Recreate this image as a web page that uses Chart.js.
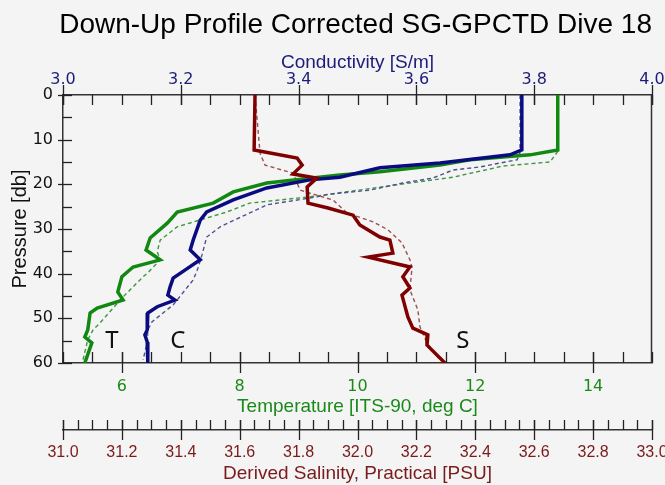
<!DOCTYPE html>
<html>
<head>
<meta charset="utf-8">
<script src="https://cdn.jsdelivr.net/npm/chart.js@4/dist/chart.umd.min.js"></script>
<style>
  html, body { margin: 0; padding: 0; background: #f4f4f4; }
  canvas { display: block; }
</style>
</head>
<body>
<canvas id="grafico" width="665" height="485"></canvas>
<script>
// ticks con etiqueta
const presion_ticks = [0, 10, 20, 30, 40, 50, 60];
const cond_ticks = [3.0, 3.2, 3.4, 3.6, 3.8, 4.0];
const temp_ticks = [6, 8, 10, 12, 14];
const sal_ticks = [31.0, 31.2, 31.4, 31.6, 31.8, 32.0, 32.2, 32.4, 32.6, 32.8, 33.0];

// temperatura, bajada (linea gruesa)
const temp_bajada_p = [0, 12.3, 13.4, 14.5, 15.7, 17.2, 17.9, 19.7, 21.7, 24.2, 26.2, 28.7, 32.0, 34.7, 36.9, 38.5, 40.7, 44.1, 45.9, 47.7, 48.8, 52.6, 54.2, 55.5, 60];
const temp_bajada_v = [13.40, 13.40, 12.93, 11.91, 11.40, 10.38, 9.70, 8.46, 7.89, 7.55, 6.94, 6.77, 6.48, 6.41, 6.65, 6.19, 6.00, 5.93, 6.02, 5.58, 5.46, 5.42, 5.37, 5.49, 5.37];
// temperatura, subida (punteada)
const temp_subida_p = [0, 12.8, 15.0, 15.9, 18.4, 20.1, 22.2, 22.8, 24.2, 26.2, 29.5, 32.5, 35.1, 36.9, 39.8, 40.7, 45.2, 51.0, 52.6, 54.8, 59.3];
const temp_subida_v = [13.39, 13.39, 13.27, 12.47, 11.62, 10.67, 9.53, 9.19, 8.17, 7.78, 6.94, 6.65, 6.60, 6.65, 6.44, 6.36, 6.02, 5.63, 5.51, 5.42, 5.34];

// conductividad
const cond_bajada_p = [0, 12.3, 13.4, 15.2, 16.3, 18.4, 19.0, 20.8, 23.5, 26.2, 28.0, 32.5, 34.7, 36.9, 39.2, 41.0, 42.9, 44.8, 45.9, 47.4, 48.8, 52.6, 53.7, 55.3, 60];
const cond_bajada_v = [3.779, 3.779, 3.759, 3.640, 3.538, 3.470, 3.419, 3.346, 3.289, 3.244, 3.233, 3.221, 3.216, 3.233, 3.207, 3.187, 3.182, 3.178, 3.190, 3.160, 3.144, 3.143, 3.139, 3.143, 3.144];
const cond_subida_p = [0, 12.8, 14.5, 16.1, 16.8, 18.6, 19.7, 21.3, 22.2, 22.8, 24.6, 26.4, 29.5, 31.8, 35.8, 39.2, 41.4, 47.0, 50.8, 52.6, 55.3, 59.3];
const cond_subida_v = [3.776, 3.776, 3.771, 3.708, 3.662, 3.628, 3.577, 3.521, 3.453, 3.431, 3.346, 3.317, 3.267, 3.244, 3.236, 3.228, 3.221, 3.187, 3.151, 3.144, 3.143, 3.136];

// salinidad
const sal_bajada_p = [0, 12.3, 14.1, 15.7, 17.7, 18.6, 20.6, 24.2, 25.3, 26.9, 29.1, 31.8, 32.5, 35.4, 36.3, 38.5, 40.7, 43.2, 44.8, 49.7, 52.2, 53.7, 56.0, 60];
const sal_bajada_v = [31.652, 31.649, 31.795, 31.812, 31.781, 31.862, 31.829, 31.832, 31.900, 31.985, 32.008, 32.076, 32.110, 32.120, 32.036, 32.178, 32.154, 32.178, 32.151, 32.171, 32.188, 32.239, 32.236, 32.297];
const sal_subida_p = [0, 13.0, 15.7, 17.5, 21.3, 22.0, 23.5, 26.4, 28.4, 30.2, 33.1, 36.9, 38.7, 43.6, 48.1, 51.9, 55.5, 59.3];
const sal_subida_v = [31.652, 31.669, 31.686, 31.781, 31.805, 31.839, 31.917, 31.964, 32.053, 32.104, 32.151, 32.178, 32.185, 32.178, 32.205, 32.212, 32.236, 32.280];

const letras = ["T", "C", "S"];
const letras_valor = [5.83, 3.195, 32.358];
const letras_eje = ["xT", "xC", "xS"];
const letras_presion = 55.1;

const color_temp = "#118811";
const color_cond = "#0b0b80";
const color_sal = "#7f0000";

function a_puntos(presiones, valores) {
  return presiones.map((p, i) => ({ x: valores[i], y: p }));
}

function serie(etiqueta, eje, presiones, valores, color, punteada) {
  return {
    label: etiqueta,
    xAxisID: eje,
    yAxisID: "y",
    data: a_puntos(presiones, valores),
    showLine: true,
    borderColor: color,
    borderWidth: punteada ? 1.4 : 3.5,
    borderDash: punteada ? [4, 3] : [],
    pointRadius: 0,
    tension: 0,
  };
}

function lista_menores(min, max, paso) {
  const n = Math.round((max - min) / paso);
  const lista = [];
  for (let i = 0; i <= n; i++) lista.push(min + i * paso);
  return lista;
}

// marcas de los ejes: menores hacia dentro, mayores cruzando la linea
const marcas_ejes = {
  id: "marcas_ejes",
  afterDraw(chart) {
    const ctx = chart.ctx;
    const area = chart.chartArea;
    const s = chart.scales;
    ctx.save();
    ctx.strokeStyle = "#222";
    ctx.lineWidth = 1.3;

    function horizontal(escala, y, paso, mayores, menor_a, menor_b, mayor_a, mayor_b) {
      lista_menores(escala.min, escala.max, paso).forEach((v) => {
        const x = Math.round(escala.getPixelForValue(v)) + 0.5;
        ctx.beginPath();
        ctx.moveTo(x, y + menor_a);
        ctx.lineTo(x, y + menor_b);
        ctx.stroke();
      });
      mayores.forEach((v) => {
        const x = Math.round(escala.getPixelForValue(v)) + 0.5;
        ctx.beginPath();
        ctx.moveTo(x, y + mayor_a);
        ctx.lineTo(x, y + mayor_b);
        ctx.stroke();
      });
    }

    horizontal(s.xC, area.top, 0.05, cond_ticks, 0, 10, -10, 10);
    horizontal(s.xT, area.bottom, 0.5, temp_ticks, -11, 0, -11, 10);
    horizontal(s.xS, s.xS.top, 0.05, sal_ticks, -10, 0, -10, 10);

    const x0 = area.left;
    lista_menores(0, 60, 5).forEach((v) => {
      const y = Math.round(s.y.getPixelForValue(v)) + 0.5;
      const mayor = presion_ticks.includes(v);
      ctx.beginPath();
      ctx.moveTo(x0 + (mayor ? -5 : 0), y);
      ctx.lineTo(x0 + 9, y);
      ctx.stroke();
    });

    // lado derecho del marco
    ctx.lineWidth = 1.5;
    ctx.strokeStyle = "#333";
    ctx.beginPath();
    ctx.moveTo(area.right - 0.5, area.top);
    ctx.lineTo(area.right - 0.5, area.bottom);
    ctx.stroke();

    // letras T C S
    ctx.fillStyle = "#111";
    ctx.font = "24px 'Noto Sans'";
    ctx.textAlign = "center";
    ctx.textBaseline = "middle";
    letras.forEach((letra, i) => {
      const x = s[letras_eje[i]].getPixelForValue(letras_valor[i]);
      const y = s.y.getPixelForValue(letras_presion);
      ctx.fillText(letra, x, y);
    });
    ctx.restore();
  },
};

function eje_x(posicion, min, max, ticks_lista, decimales, color, titulo, alto, opciones) {
  return Object.assign({
    type: "linear",
    axis: "x",
    position: posicion,
    min: min,
    max: max,
    afterBuildTicks: (escala) => {
      escala.ticks = ticks_lista.map((v) => ({ value: v }));
    },
    afterFit: (escala) => {
      escala.height = alto;
      escala.paddingLeft = 0;
      escala.paddingRight = 0;
    },
    grid: { display: false, drawTicks: false },
    border: { display: true, color: "#333", width: 1.5 },
    title: {
      display: true,
      text: titulo,
      color: color,
      font: { family: "'Liberation Sans', Arial", size: 19 },
    },
  }, opciones, {
    ticks: Object.assign({
      color: color,
      autoSkip: false,
      maxRotation: 0,
      minRotation: 0,
      callback: (v) => v.toFixed(decimales),
    }, opciones.ticks),
  });
}

const config = {
  type: "scatter",
  data: {
    datasets: [
      serie("S bajada", "xS", sal_bajada_p, sal_bajada_v, color_sal, false),
      serie("C bajada", "xC", cond_bajada_p, cond_bajada_v, color_cond, false),
      serie("T bajada", "xT", temp_bajada_p, temp_bajada_v, color_temp, false),
      serie("S subida", "xS", sal_subida_p, sal_subida_v, "#9a5050", true),
      serie("C subida", "xC", cond_subida_p, cond_subida_v, "#50508f", true),
      serie("T subida", "xT", temp_subida_p, temp_subida_v, "#409640", true),
    ],
  },
  options: {
    responsive: false,
    animation: false,
    devicePixelRatio: 1,
    layout: { padding: { left: 0, right: 13, top: 0, bottom: 0 } },
    plugins: {
      legend: { display: false },
      tooltip: { enabled: false },
      title: {
        display: true,
        text: "Down-Up Profile Corrected SG-GPCTD Dive 18",
        align: "end",
        color: "#000",
        font: { family: "'Liberation Sans', Arial", size: 28, weight: "normal", lineHeight: 1.2 },
        padding: { top: 8, bottom: 0 },
      },
    },
    scales: {
      y: {
        type: "linear",
        axis: "y",
        position: "left",
        reverse: true,
        min: 0,
        max: 60,
        afterBuildTicks: (escala) => {
          escala.ticks = presion_ticks.map((v) => ({ value: v }));
        },
        afterFit: (escala) => {
          escala.width = 63;
          escala.paddingTop = 0;
          escala.paddingBottom = 0;
        },
        grid: { display: false, drawTicks: false },
        border: { display: true, color: "#333", width: 1.5 },
        ticks: {
          color: "#111",
          padding: 10,
          font: { family: "'DejaVu Sans'", size: 16 },
        },
        title: {
          display: true,
          text: "Pressure [db]",
          color: "#111",
          font: { family: "'Liberation Sans', Arial", size: 20 },
          padding: { top: 8, bottom: 0 },
        },
      },
      xC: eje_x("top", 3, 4, cond_ticks, 1, "#1c1c7a", "Conductivity [S/m]", 53.4, {
        weight: 0,
        ticks: { padding: 6, font: { family: "'DejaVu Sans'", size: 16 } },
        title: {
          display: true, text: "Conductivity [S/m]", color: "#1c1c7a",
          font: { family: "'Liberation Sans', Arial", size: 19 },
          padding: { top: 10, bottom: 0 },
        },
      }),
      xT: eje_x("bottom", 5, 15, temp_ticks, 0, "#1a8a1a", "Temperature [ITS-90, deg C]", 67, {
        weight: 0,
        ticks: { padding: 14, font: { family: "'DejaVu Sans'", size: 16 } },
        title: {
          display: true, text: "Temperature [ITS-90, deg C]", color: "#1a8a1a",
          font: { family: "'Liberation Sans', Arial", size: 19 },
          padding: { top: 0, bottom: 12 },
        },
      }),
      xS: eje_x("bottom", 31, 33, sal_ticks, 1, "#7a1a1a", "Derived Salinity, Practical [PSU]", 55, {
        weight: 1,
        ticks: { padding: 13, font: { family: "'Liberation Sans Narrow', 'Liberation Sans'", size: 16 } },
        title: {
          display: true, text: "Derived Salinity, Practical [PSU]", color: "#7a1a1a",
          font: { family: "'Liberation Sans', Arial", size: 19 },
          padding: { top: 0, bottom: 0 },
        },
      }),
    },
  },
  plugins: [marcas_ejes],
};

const grafico = document.getElementById("grafico");
new Chart(grafico, config);
</script>
</body>
</html>
